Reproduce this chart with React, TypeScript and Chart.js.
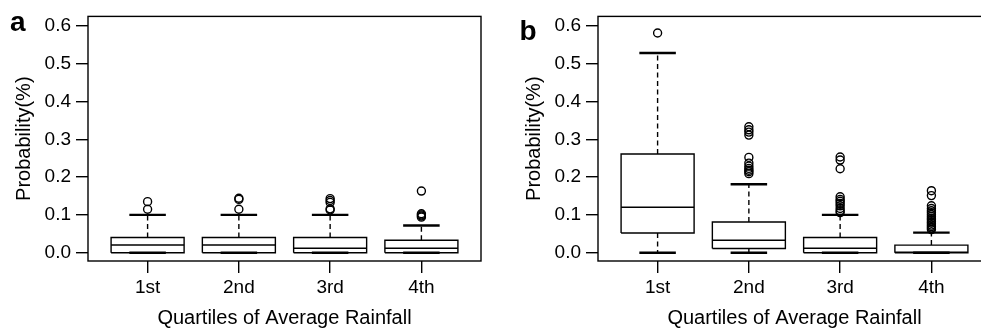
import React, { useEffect, useRef } from 'react';
import { Chart, registerables } from 'chart.js';

Chart.register(...registerables);

// ---- data ----
const CATEGORIES = ['1st', '2nd', '3rd', '4th'];
const Y_TICKS = [0, 0.1, 0.2, 0.3, 0.4, 0.5, 0.6];
const X_TITLE = 'Quartiles of Average Rainfall';
const Y_TITLE = 'Probability(%)';

// Panel a
const A_LOWER = [0, 0, 0, 0];
const A_Q1 = [0, 0, 0, 0];
const A_MEDIAN = [0.02, 0.02, 0.012, 0.012];
const A_Q3 = [0.04, 0.04, 0.04, 0.033];
const A_UPPER = [0.1, 0.1, 0.1, 0.072];
const A_OUT_1 = [0.115, 0.135];
const A_OUT_2 = [0.115, 0.141, 0.144];
const A_OUT_3 = [0.113, 0.116, 0.133, 0.138, 0.143];
const A_OUT_4 = [0.094, 0.097, 0.1, 0.103, 0.163];

// Panel b
const B_LOWER = [0, 0, 0, 0];
const B_Q1 = [0.052, 0.011, 0, 0];
const B_MEDIAN = [0.12, 0.033, 0.012, 0.001];
const B_Q3 = [0.261, 0.081, 0.04, 0.02];
const B_UPPER = [0.528, 0.181, 0.1, 0.053];
const B_OUT_1 = [0.581];
const B_OUT_2 = [0.209, 0.214, 0.218, 0.223, 0.229, 0.237, 0.252, 0.311, 0.319, 0.325, 0.333];
const B_OUT_3 = [0.106, 0.111, 0.117, 0.124, 0.13, 0.136, 0.141, 0.148, 0.222, 0.245, 0.253];
const B_OUT_4 = [0.061, 0.065, 0.069, 0.073, 0.078, 0.082, 0.087, 0.091, 0.096, 0.101, 0.106, 0.111, 0.117, 0.124, 0.151, 0.164];

type PanelData = {
  letter: string;
  letterX: number;
  letterY: number;
  lower: number[];
  q1: number[];
  median: number[];
  q3: number[];
  upper: number[];
  outliers: number[][];
};

const PANELS: PanelData[] = [
  {
    letter: 'a', letterX: 10, letterY: 31,
    lower: A_LOWER, q1: A_Q1, median: A_MEDIAN, q3: A_Q3, upper: A_UPPER,
    outliers: [A_OUT_1, A_OUT_2, A_OUT_3, A_OUT_4],
  },
  {
    letter: 'b', letterX: 9.5, letterY: 40,
    lower: B_LOWER, q1: B_Q1, median: B_MEDIAN, q3: B_Q3, upper: B_UPPER,
    outliers: [B_OUT_1, B_OUT_2, B_OUT_3, B_OUT_4],
  },
];

const FONT_FAMILY = '"Liberation Sans", Arial, Helvetica, sans-serif';
const BOX_HALF = 0.4;
const CAP_HALF = 0.2;

function lineDs(points: { x: number; y: number }[], width: number, dash: number[] = []) {
  return {
    data: points,
    showLine: true,
    borderColor: '#000',
    backgroundColor: '#000',
    borderWidth: width,
    borderDash: dash,
    borderCapStyle: 'butt',
    borderJoinStyle: 'miter',
    pointRadius: 0,
    pointHoverRadius: 0,
    fill: false,
    tension: 0,
  };
}

function buildDatasets(p: PanelData) {
  const ds: any[] = [];
  const outPts: { x: number; y: number }[] = [];
  CATEGORIES.forEach((_, i) => {
    const x = i + 1;
    const q1 = p.q1[i];
    const q3 = p.q3[i];
    // whiskers (dashed)
    ds.push(lineDs([{ x, y: q3 }, { x, y: p.upper[i] }], 1.4, [5, 3.5]));
    ds.push(lineDs([{ x, y: q1 }, { x, y: p.lower[i] }], 1.4, [5, 3.5]));
    // caps
    ds.push(lineDs([{ x: x - CAP_HALF, y: p.upper[i] }, { x: x + CAP_HALF, y: p.upper[i] }], 2.4));
    ds.push(lineDs([{ x: x - CAP_HALF, y: p.lower[i] }, { x: x + CAP_HALF, y: p.lower[i] }], 2.4));
    // box
    ds.push(
      lineDs(
        [
          { x: x - BOX_HALF, y: q1 },
          { x: x + BOX_HALF, y: q1 },
          { x: x + BOX_HALF, y: q3 },
          { x: x - BOX_HALF, y: q3 },
          { x: x - BOX_HALF, y: q1 },
        ],
        1.4
      )
    );
    // median
    ds.push(lineDs([{ x: x - BOX_HALF, y: p.median[i] }, { x: x + BOX_HALF, y: p.median[i] }], 1.5));
    p.outliers[i].forEach((v) => outPts.push({ x, y: v }));
  });
  ds.push({
    data: outPts,
    showLine: false,
    pointStyle: 'circle',
    pointRadius: 4,
    pointHoverRadius: 4,
    pointBorderColor: '#000',
    pointBackgroundColor: 'rgba(0,0,0,0)',
    pointBorderWidth: 1.4,
    borderColor: '#000',
    backgroundColor: 'rgba(0,0,0,0)',
  });
  return ds;
}

const framePlugin = {
  id: 'frameAndLetter',
  afterDraw(chart: any, _args: any, opts: any) {
    const { ctx, chartArea } = chart;
    ctx.save();
    ctx.strokeStyle = '#000';
    ctx.lineWidth = 1.4;
    ctx.strokeRect(chartArea.left, chartArea.top, chartArea.right - chartArea.left, chartArea.bottom - chartArea.top);
    ctx.fillStyle = '#000';
    ctx.font = `bold 28px ${FONT_FAMILY}`;
    ctx.textBaseline = 'alphabetic';
    ctx.textAlign = 'left';
    ctx.fillText(opts.letter, opts.x, opts.y);
    ctx.restore();
  },
};

function BoxPanel({ panel }: { panel: PanelData }) {
  const ref = useRef<HTMLCanvasElement | null>(null);
  useEffect(() => {
    if (!ref.current) return;
    const tickFont = { family: FONT_FAMILY, size: 19 };
    const titleFont = { family: FONT_FAMILY, size: 20 };
    const chart = new Chart(ref.current, {
      type: 'scatter',
      data: { datasets: buildDatasets(panel) as any },
      plugins: [framePlugin as any],
      options: {
        animation: false,
        responsive: false,
        devicePixelRatio: 1,
        events: [],
        layout: { padding: { top: 16, right: 9, left: 0, bottom: 0 } },
        plugins: {
          legend: { display: false },
          tooltip: { enabled: false },
          frameAndLetter: { letter: panel.letter, x: panel.letterX, y: panel.letterY },
        } as any,
        scales: {
          x: {
            type: 'linear',
            min: 0.347,
            max: 4.653,
            afterBuildTicks: (s: any) => {
              s.ticks = CATEGORIES.map((_, i) => ({ value: i + 1 }));
            },
            afterFit: (s: any) => {
              s.height = 69;
            },
            ticks: {
              callback: (v: any) => CATEGORIES[Math.round(Number(v)) - 1] ?? '',
              font: tickFont,
              color: '#000',
              padding: 3,
              maxRotation: 0,
              autoSkip: false,
            },
            grid: { drawOnChartArea: false, drawTicks: true, tickLength: 12, color: '#000', lineWidth: 1.4 },
            border: { display: false },
            title: { display: true, text: X_TITLE, font: titleFont, color: '#000', padding: { top: 0, bottom: 0 } },
          },
          y: {
            type: 'linear',
            min: -0.022,
            max: 0.625,
            afterBuildTicks: (s: any) => {
              s.ticks = Y_TICKS.map((v) => ({ value: v }));
            },
            afterFit: (s: any) => {
              s.width = 88;
            },
            ticks: {
              callback: (v: any) => Number(v).toFixed(1),
              font: tickFont,
              color: '#000',
              padding: 5,
              autoSkip: false,
            },
            grid: { drawOnChartArea: false, drawTicks: true, tickLength: 12, color: '#000', lineWidth: 1.4 },
            border: { display: false },
            title: { display: true, text: Y_TITLE, font: titleFont, color: '#000', padding: { top: 12, bottom: 0 } },
          },
        },
      } as any,
    });
    return () => chart.destroy();
  }, [panel]);
  return <canvas ref={ref} width={490} height={330} style={{ display: 'block', width: 490, height: 330 }} />;
}

export default function App() {
  return (
    <div
      style={{
        position: 'absolute',
        left: 0,
        top: 0,
        width: 981,
        height: 330,
        overflow: 'hidden',
        background: '#fff',
      }}
    >
      <div style={{ position: 'absolute', left: 0, top: 0, width: 490, height: 330 }}>
        <BoxPanel panel={PANELS[0]} />
      </div>
      <div style={{ position: 'absolute', left: 510, top: 0, width: 490, height: 330 }}>
        <BoxPanel panel={PANELS[1]} />
      </div>
    </div>
  );
}
